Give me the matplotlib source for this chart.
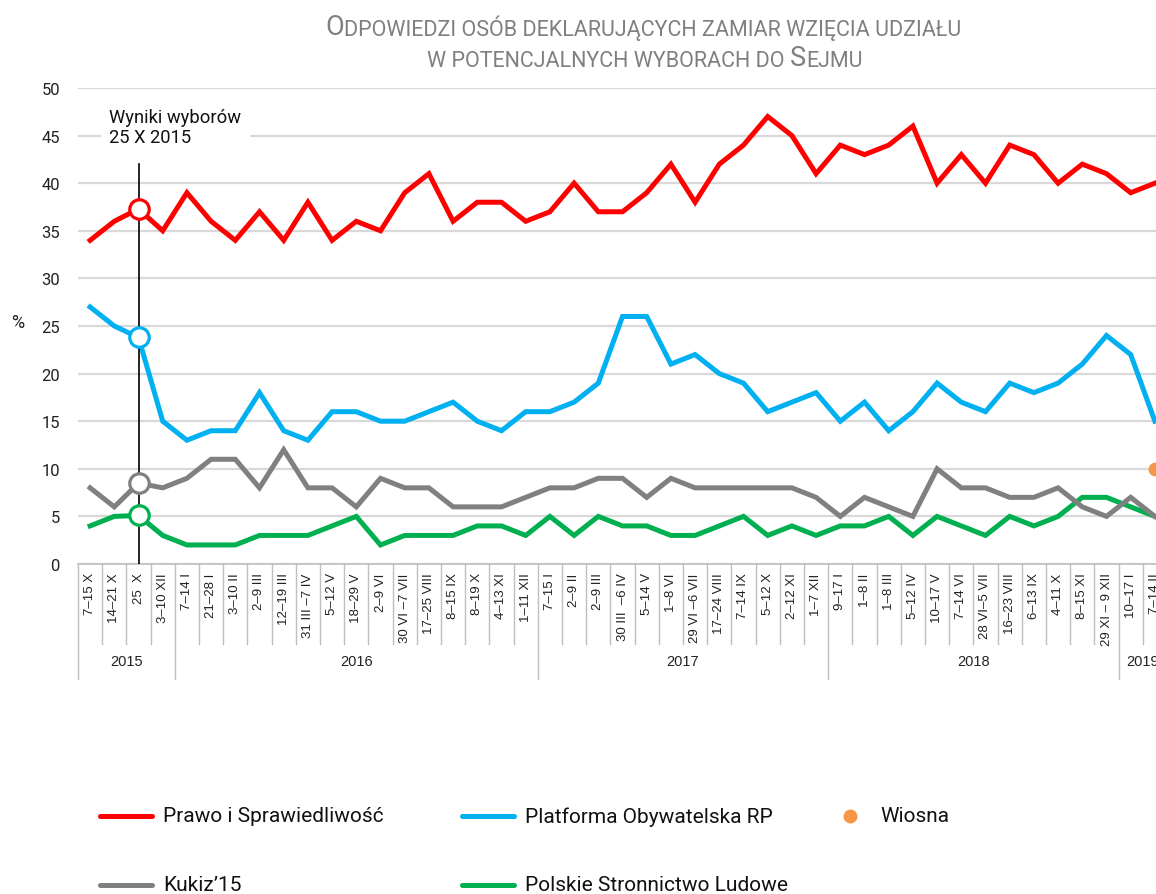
import numpy as np
import matplotlib.pyplot as plt
from matplotlib.lines import Line2D

# kategorie (terminy badań) i lata
categories = ['7–15 X', '14–21 X', '25  X', '3–10 XII',
              '7–14 I', '21–28 I', '3–10 II', '2–9 III', '12–19 III', '31 III –7 IV',
              '5–12 V', '18–29 V', '2–9 VI', '30 VI –7 VII', '17–25 VIII', '8–15 IX',
              '8–19 X', '4–13 XI', '1–11 XII',
              '7–15 I', '2–9 II', '2–9 III', '30 III  –6 IV', '5–14 V', '1–8 VI',
              '29 VI –6 VII', '17–24 VIII', '7–14 IX', '5–12 X', '2–12 XI', '1–7 XII',
              '9–17 I', '1–8 II', '1–8 III', '5–12 IV', '10–17 V', '7–14 VI',
              '28 VI–5 VII', '16–23 VIII', '6–13 IX', '4–11 X', '8–15 XI', '29 XI – 9 XII',
              '10–17 I', '7–14 II']
years = ['2015', '2016', '2017', '2018', '2019']
year_counts = [4, 15, 12, 12, 2]

pis = [34, 36, 37.3, 35, 39, 36, 34, 37, 34, 38, 34, 36, 35, 39, 41, 36, 38, 38, 36,
       37, 40, 37, 37, 39, 42, 38, 42, 44, 47, 45, 41,
       44, 43, 44, 46, 40, 43, 40, 44, 43, 40, 42, 41, 39, 40]
po = [27, 25, 23.8, 15, 13, 14, 14, 18, 14, 13, 16, 16, 15, 15, 16, 17, 15, 14, 16,
      16, 17, 19, 26, 26, 21, 22, 20, 19, 16, 17, 18,
      15, 17, 14, 16, 19, 17, 16, 19, 18, 19, 21, 24, 22, 15]
kukiz = [8, 6, 8.5, 8, 9, 11, 11, 8, 12, 8, 8, 6, 9, 8, 8, 6, 6, 6, 7,
         8, 8, 9, 9, 7, 9, 8, 8, 8, 8, 8, 7,
         5, 7, 6, 5, 10, 8, 8, 7, 7, 8, 6, 5, 7, 5]
psl = [4, 5, 5.1, 3, 2, 2, 2, 3, 3, 3, 4, 5, 2, 3, 3, 3, 4, 4, 3,
       5, 3, 5, 4, 4, 3, 3, 4, 5, 3, 4, 3,
       4, 4, 5, 3, 5, 4, 3, 5, 4, 5, 7, 7, 6, 5]
wiosna = [np.nan] * 44 + [10]
election_idx = 2

c_pis = '#FF0000'
c_po = '#00B0F0'
c_kukiz = '#808080'
c_psl = '#00B050'
c_wiosna = '#F79646'

plt.rcParams['font.family'] = ['Roboto', 'DejaVu Sans']

W, H = 1156, 895
fig = plt.figure(figsize=(W / 100, H / 100), dpi=100)

# obszar wykresu wychodzi poza prawą krawędź (jak w oryginale)
n = len(categories)
cat_w = 24.2
left_px, top_px, bottom_px = 78, 89, 565
ax = fig.add_axes([left_px / W, (H - bottom_px) / H, n * cat_w / W, (bottom_px - top_px) / H])
ax.set_facecolor('none')

x = np.arange(n)
lw = 3.6
ax.plot(x, psl, color=c_psl, lw=lw, solid_joinstyle='miter', zorder=3)
ax.plot(x, kukiz, color=c_kukiz, lw=lw, solid_joinstyle='miter', zorder=3)
ax.plot(x, po, color=c_po, lw=lw, solid_joinstyle='miter', zorder=3)
ax.plot(x, pis, color=c_pis, lw=lw, solid_joinstyle='miter', zorder=3)
ax.plot(x, wiosna, 'o', color=c_wiosna, ms=9, zorder=4, clip_on=False)

# wyniki wyborów - kółka
for vals, col in [(pis, c_pis), (po, c_po), (kukiz, c_kukiz), (psl, c_psl)]:
    ax.plot(election_idx, vals[election_idx], 'o', ms=14, mfc='white', mec=col, mew=2.3, zorder=6)
ax.plot([election_idx, election_idx], [0, 42], color='black', lw=1.2, zorder=5)
ax.text(election_idx - 1.2, 45.9, 'Wyniki wyborów\n25 X 2015', fontsize=13.2, va='center', ha='left',
        color='#111111', linespacing=1.2, zorder=5,
        bbox=dict(facecolor='white', edgecolor='none', pad=6))

ax.set_xlim(-0.5, n - 0.5)
ax.set_ylim(0, 50)
ax.set_yticks(np.arange(0, 51, 5))
ax.yaxis.grid(True, color='#D9D9D9', lw=1.6)
ax.set_axisbelow(True)
ax.tick_params(axis='y', length=0, pad=13, labelsize=12, labelcolor='#222222')
for s in ['top', 'right', 'left']:
    ax.spines[s].set_visible(False)
ax.spines['bottom'].set_color('#BFBFBF')
ax.spines['bottom'].set_linewidth(1.2)

ax.set_xticks(x)
ax.set_xticklabels(categories, rotation=90, fontsize=9.5, family=['Liberation Sans', 'DejaVu Sans'],
                   color='#222222', va='top', ha='center')
ax.tick_params(axis='x', length=0, pad=6)

# linie podziału kategorii i lat
trans = ax.get_xaxis_transform()
row1 = -80 / (bottom_px - top_px)
row2 = -115 / (bottom_px - top_px)
bounds = np.cumsum([0] + year_counts)
for b in range(n + 1):
    y_end = row2 if b in bounds else row1
    ax.plot([b - 0.5, b - 0.5], [0, y_end], transform=trans, color='#BFBFBF', lw=1.0, clip_on=False)
for yr, s, e in zip(years, bounds[:-1], bounds[1:]):
    ax.text((s + e - 1) / 2, (row1 + row2) / 2, yr, transform=trans, ha='center', va='center',
            fontsize=10.5, family=['Liberation Sans', 'DejaVu Sans'], color='#222222')

fig.text(18 / W, (H - 323) / H, '%', fontsize=13, ha='center', va='center', color='#222222')

# tytuł (kapitaliki)
title_col = '#7F7F7F'
big, small = 19.5, 15.5
line1 = [('O', big), ('DPOWIEDZI OSÓB DEKLARUJĄCYCH ZAMIAR WZIĘCIA UDZIAŁU', small)]
line2 = [('W POTENCJALNYCH WYBORACH DO ', small), ('S', big), ('EJMU', small)]
for parts, x0, y0 in [(line1, 325, 35), (line2, 427, 67)]:
    prev = None
    for txt, fs in parts:
        if prev is None:
            prev = ax.annotate(txt, xy=(x0 / W, (H - y0) / H), xycoords='figure fraction',
                               fontsize=fs, color=title_col, ha='left', va='baseline',
                               annotation_clip=False)
        else:
            prev = ax.annotate(txt, xy=(1, 0), xycoords=prev, xytext=(0, 0), textcoords='offset points',
                               fontsize=fs, color=title_col, ha='left', va='bottom',
                               annotation_clip=False)

# legenda
leg_fs = 15
leg_items = [('Prawo i Sprawiedliwość', c_pis, 'line', 100, 817),
             ('Platforma Obywatelska RP', c_po, 'line', 462, 817),
             ('Wiosna', c_wiosna, 'dot', 835, 817),
             ('Kukiz’15', c_kukiz, 'line', 100, 886),
             ('Polskie Stronnictwo Ludowe', c_psl, 'line', 462, 886)]
for label, col, kind, lx, ly in leg_items:
    yy = (H - ly) / H
    if kind == 'line':
        fig.add_artist(Line2D([lx / W, (lx + 52) / W], [yy, yy], color=col, lw=lw,
                              solid_capstyle='round', transform=fig.transFigure))
        fig.text((lx + 63) / W, yy, label, fontsize=leg_fs, va='center', ha='left', color='#111111')
    else:
        fig.add_artist(Line2D([(lx + 15) / W], [yy], marker='o', ms=9, color=col, lw=0,
                              transform=fig.transFigure))
        fig.text((lx + 45) / W, yy, label, fontsize=leg_fs, va='center', ha='left', color='#111111')

fig.savefig('out.png', dpi=100)
